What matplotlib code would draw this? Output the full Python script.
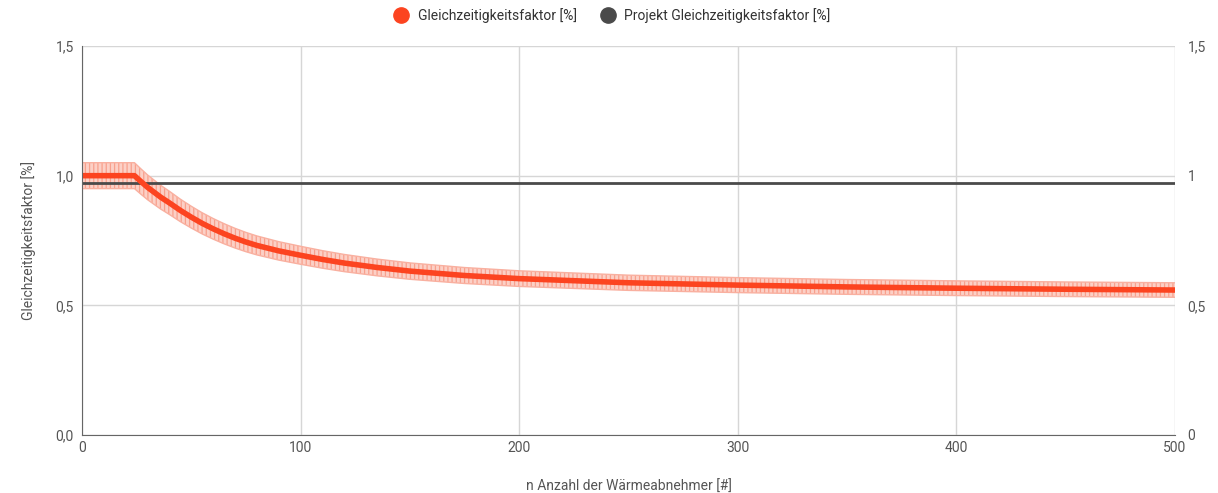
import numpy as np
import matplotlib.pyplot as plt
from matplotlib.lines import Line2D

plt.rcParams['font.family'] = ['Roboto', 'DejaVu Sans']
plt.rcParams['hatch.linewidth'] = 0.9

# data
n_abnehmer = [0, 24, 27, 30, 33, 36, 40, 45, 50, 55, 60, 65, 70, 75, 80,
              90, 100, 110, 120, 135, 150, 175, 200, 250, 300, 350, 400, 450, 500]
glf = [1.0, 1.0, 0.977, 0.955, 0.936, 0.917, 0.895, 0.866, 0.84, 0.816,
       0.795, 0.776, 0.759, 0.744, 0.731, 0.71, 0.693, 0.677, 0.663, 0.646,
       0.632, 0.615, 0.603, 0.587, 0.578, 0.571, 0.566, 0.562, 0.559]
rel_err = 0.05          # error bars +-5 %
projekt_glf = 0.973

RED = '#fc4420'
DARK = '#4a4a4a'
GRID = '#d6d6d6'
TXT = '#555555'

x = np.array(n_abnehmer, dtype=float)
y = np.array(glf)

fig = plt.figure(figsize=(12.18, 4.93), dpi=100)
ax = fig.add_axes([82 / 1218, 58 / 493, (1175 - 82) / 1218, (435 - 46) / 493])

# error band
ax.fill_between(x, y * (1 - rel_err), y * (1 + rel_err), facecolor='#fcd0c6',
                edgecolor='#f8a08c', hatch='||||', linewidth=0, zorder=2)
ax.plot(x, y * (1 + rel_err), color='#f9b0a0', lw=1, zorder=2)
ax.plot(x, y * (1 - rel_err), color='#f9b0a0', lw=1, zorder=2)
ax.plot(x, y, color=RED, lw=4, zorder=4)
ax.axhline(projekt_glf, color=DARK, lw=2, zorder=3)

ax.set_xlim(0, 500)
ax.set_ylim(0, 1.5)
ax.set_xticks([0, 100, 200, 300, 400, 500])
ax.set_yticks([0, 0.5, 1.0, 1.5])
ax.set_yticklabels(['0,0', '0,5', '1,0', '1,5'])
ax.grid(True, color=GRID, lw=1, zorder=0)
for s in ['top', 'right']:
    ax.spines[s].set_visible(False)
ax.spines['left'].set_color('#666666')
ax.spines['bottom'].set_color('#666666')
ax.spines['left'].set_zorder(5)
ax.tick_params(length=0, labelsize=10, colors=TXT, pad=4)
ax.tick_params(axis='y', pad=6)

ax2 = ax.twinx()
ax2.set_ylim(0, 1.5)
ax2.set_yticks([0, 0.5, 1.0, 1.5])
ax2.set_yticklabels(['0', '0,5', '1', '1,5'])
for s in ax2.spines.values():
    s.set_visible(False)
ax2.tick_params(length=0, labelsize=10, colors=TXT, pad=9)

ax.set_xlabel('n Anzahl der Wärmeabnehmer [#]', fontsize=10, color=TXT, labelpad=18)
ax.set_ylabel('Gleichzeitigkeitsfaktor [%]', fontsize=10, color=TXT, labelpad=14)

handles = [Line2D([], [], ls='none', marker='o', ms=11, color=RED),
           Line2D([], [], ls='none', marker='o', ms=11, color=DARK)]
fig.legend(handles, ['Gleichzeitigkeitsfaktor [%]', 'Projekt Gleichzeitigkeitsfaktor [%]'],
           loc='upper center', bbox_to_anchor=(0.5, 1.01), ncol=2, frameon=False,
           fontsize=10, handletextpad=0.2, columnspacing=1.2, labelcolor='#333333')

fig.savefig('out.png', dpi=100)
